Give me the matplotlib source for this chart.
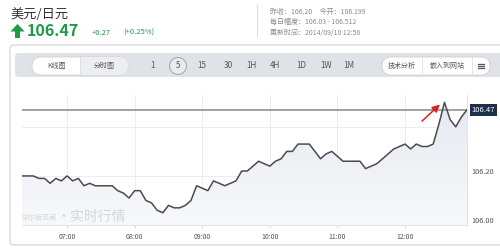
import numpy as np
import pandas as pd
import matplotlib
matplotlib.use('Agg')
import matplotlib.pyplot as plt
import matplotlib.dates as mdates
from matplotlib.patches import FancyBboxPatch, Circle, Polygon, Rectangle
from matplotlib.colors import LinearSegmentedColormap

plt.rcParams['font.family'] = ['Noto Sans CJK SC', 'DejaVu Sans']

# header data
pair_name = '美元/日元'
last_price = 106.47
change_text = '+0.27'
change_pct_text = '(+0.25%)'
info_lines = ['昨收：106.20     今开：106.199',
              '每日幅度：106.03 - 106.512',
              '更新时间：2014/09/10 12:58']
chart_tabs = ['K线图', '分时图']
period_labels = ['1', '5', '15', '30', '1H', '4H', '1D', '1W', '1M']
tool_labels = ['技术分析', '嵌入到网站']
watermark_small = '华尔街见闻'
watermark_big = '·实时行情'

# 5-minute closes from 06:20 to 12:55
start_time = '2014-09-10 06:20'
prices = [106.20, 106.20, 106.20, 106.19, 106.19, 106.17, 106.19, 106.18, 106.20, 106.18,
          106.19, 106.16, 106.17, 106.16, 106.16, 106.16, 106.16, 106.14, 106.13, 106.11,
          106.14, 106.14, 106.10, 106.09, 106.06, 106.05, 106.08, 106.07, 106.07, 106.08,
          106.10, 106.16, 106.15, 106.14, 106.18, 106.17, 106.16, 106.17, 106.18, 106.22,
          106.22, 106.24, 106.26, 106.25, 106.24, 106.26, 106.27, 106.30, 106.30, 106.33,
          106.33, 106.33, 106.30, 106.27, 106.29, 106.30, 106.28, 106.26, 106.26, 106.26,
          106.26, 106.23, 106.24, 106.25, 106.27, 106.29, 106.31, 106.32, 106.33, 106.31,
          106.33, 106.32, 106.32, 106.33, 106.41, 106.50, 106.43, 106.40, 106.44, 106.47]
y_ticks = [106.00, 106.20, 106.40]
y_tick_labels = ['106.00', '106.20', '']
y_range = (106.00, 106.53)

times = pd.date_range(start_time, periods=len(prices), freq='5min')

fig = plt.figure(figsize=(5, 2.48), dpi=100)

# page background drawn in pixel coordinates
bg = fig.add_axes([0, 0, 1, 1], zorder=0)
bg.set_xlim(0, 500)
bg.set_ylim(248, 0)
bg.axis('off')

green = '#1f9a47'
bg.text(10, 14, pair_name, fontsize=9.5, color='#333333', va='center', ha='left')
bg.add_patch(Polygon([[10.5, 31.5], [17.5, 24], [24.5, 31.5], [20, 31.5], [20, 38],
                      [15, 38], [15, 31.5]], closed=True, fc=green, ec='none'))
bg.text(27, 31.5, f'{last_price:.2f}', fontsize=11.5, fontweight='bold', color=green,
        va='center', ha='left')
bg.text(92, 33, change_text, fontsize=5.5, color=green, va='center', ha='left')
bg.text(123, 33, change_pct_text, fontsize=5.5, color=green, va='center', ha='left')

bg.plot([257, 257], [5, 36], color='#dddddd', lw=0.8)
for i, line in enumerate(info_lines):
    bg.text(270, 12 + i * 10.3, line, fontsize=5, color='#8a8a8a', va='center', ha='left')

# chart container and toolbar
bg.add_patch(FancyBboxPatch((10, 45), 500, 200, boxstyle='round,pad=0,rounding_size=4',
                            fc='white', ec='#d2d2d2', lw=0.8))
bg.add_patch(FancyBboxPatch((15, 53), 495, 24, boxstyle='round,pad=0,rounding_size=4',
                            fc='#dfe2e6', ec='none'))

pill = FancyBboxPatch((32, 57), 96, 18, boxstyle='round,pad=0,rounding_size=9',
                      fc='white', ec='#cdd1d6', lw=0.6)
bg.add_patch(pill)
shade = Rectangle((80, 57), 48, 18, fc='#eceef1', ec='none')
bg.add_patch(shade)
shade.set_clip_path(pill)
bg.plot([80, 80], [57, 75], color='#d8dbe0', lw=0.6)
bg.text(56, 66, chart_tabs[0], fontsize=5, color='#555555', va='center', ha='center')
bg.text(104, 66, chart_tabs[1], fontsize=5, color='#555555', va='center', ha='center')

period_x = [153, 178, 202, 228, 251, 275, 301, 326, 349]
bg.add_patch(Circle((178, 66), 8.5, fc='#e9ebee', ec='#a9adb3', lw=0.8))
for px, lab in zip(period_x, period_labels):
    bg.text(px, 66, lab, fontsize=5.8, color='#555555', va='center', ha='center')

bg.add_patch(FancyBboxPatch((382, 57), 108, 18, boxstyle='round,pad=0,rounding_size=9',
                            fc='white', ec='#cdd1d6', lw=0.6))
bg.plot([422, 422], [57, 75], color='#e0e0e0', lw=0.6)
bg.plot([472, 472], [57, 75], color='#e0e0e0', lw=0.6)
bg.text(402, 66, tool_labels[0], fontsize=5, color='#555555', va='center', ha='center')
bg.text(447, 66, tool_labels[1], fontsize=5, color='#555555', va='center', ha='center')
for yy in [63.5, 65.5, 67.5]:
    bg.plot([478, 484], [yy, yy], color='#555555', lw=0.9)

# price chart
ax = fig.add_axes([22 / 500, 23 / 248, 445 / 500, 130 / 248], zorder=1)
ax.set_facecolor('none')
ax.set_ylim(*y_range)
ax.set_xlim(times[0], times[-1])

x_num = mdates.date2num(times)
poly_pts = np.vstack([np.column_stack([x_num, prices]),
                      [[x_num[-1], y_range[0]], [x_num[0], y_range[0]]]])
fill_poly = Polygon(poly_pts, closed=True, fc='none', ec='none')
ax.add_patch(fill_poly)
grad_cmap = LinearSegmentedColormap.from_list('fill', ['#f8f9fb', '#e4e8f0'])
grad = np.linspace(0, 1, 256).reshape(-1, 1)
im = ax.imshow(grad, extent=[x_num[0], x_num[-1], y_range[0], y_range[1]], aspect='auto',
               origin='lower', cmap=grad_cmap, zorder=1)
im.set_clip_path(fill_poly)

ax.axhline(last_price, color='#9a9a9a', lw=1.3, zorder=2)
ax.plot(times, prices, color='#4a4a50', lw=1.1, zorder=3)

ax.xaxis.set_major_locator(mdates.HourLocator())
ax.xaxis.set_major_formatter(mdates.DateFormatter('%H:%M'))
ax.set_yticks(y_ticks)
ax.set_yticklabels(y_tick_labels)
ax.yaxis.tick_right()
ax.tick_params(axis='x', length=2, color='#dddddd', labelsize=5, labelcolor='#555555', pad=4)
ax.tick_params(axis='y', length=0, labelsize=5.3, labelcolor='#555555', pad=3)
for lab in ax.get_yticklabels():
    lab.set_verticalalignment('bottom')
ax.grid(True, color='#ededed', lw=0.7, zorder=0)
ax.set_axisbelow(True)
for side in ['top', 'left']:
    ax.spines[side].set_visible(False)
ax.spines['bottom'].set_color('#e3e3e3')
ax.spines['right'].set_color('#e3e3e3')
ax.spines['bottom'].set_linewidth(0.7)
ax.spines['right'].set_linewidth(0.7)

ax.annotate(f'{last_price:.2f}', xy=(1, last_price), xycoords=('axes fraction', 'data'),
            xytext=(3.5, 0), textcoords='offset points', va='center', ha='left',
            fontsize=5.5, color='white',
            bbox=dict(boxstyle='square,pad=0.25', fc='#1d3049', ec='none'))

# overlay: watermark and red arrow
top = fig.add_axes([0, 0, 1, 1], zorder=2)
top.set_xlim(0, 500)
top.set_ylim(248, 0)
top.axis('off')
top.text(22, 218, watermark_small, fontsize=5, color='#d6d6d6', va='center', ha='left')
top.text(57, 216.5, watermark_big, fontsize=10, color='#d6d6d6', va='center', ha='left')
top.annotate('', xy=(442, 102.5), xytext=(420, 123),
             arrowprops=dict(arrowstyle='-|>,head_length=0.45,head_width=0.22',
                             color='#d7261e', lw=1.1))

fig.savefig('out.png', dpi=100)
